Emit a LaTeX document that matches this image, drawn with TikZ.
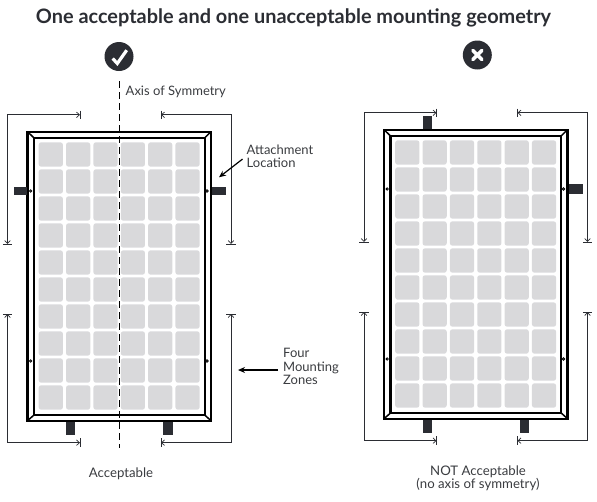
\documentclass[tikz,border=0pt]{standalone}
\usepackage{fontspec}
\setmainfont{Lato}
\usetikzlibrary{arrows.meta}
\definecolor{ink}{HTML}{2B2D33}
\definecolor{cell}{HTML}{D9D9DB}
\definecolor{txt}{HTML}{3A3C40}
\tikzset{
  x=1pt,y=-1pt,
  framel/.style={draw=black,line width=2.4pt,line join=miter},
  miterl/.style={draw=black,line width=1.5pt},
  cellbox/.style={fill=cell,rounded corners=2.5pt},
  mount/.style={fill=ink},
  dotm/.style={draw=black,fill=white,line width=0.8pt},
  brk/.style={draw=ink,line width=1pt,{Straight Barb[length=3pt,width=5.5pt,line width=0.7pt]}-{Straight Barb[length=3pt,width=5.5pt,line width=0.7pt]}},
  tick/.style={draw=ink,line width=1pt},
  badge/.style={fill=ink},
  lbl/.style={inner sep=0pt,text=txt,font=\fontsize{13}{13.3}\selectfont,align=left},
  capt/.style={inner sep=0pt,text=txt,font=\fontsize{13.2}{12.5}\selectfont,align=center},
  callout/.style={draw=black,line width=1.2pt,-{Stealth[length=7pt,width=6pt]}},
}
\newcommand{\solarpanel}{%
  \foreach \c in {0,...,5}{\foreach \r in {0,...,9}{
    \fill[cellbox] ({38.7+27.35*\c},{142.3+27*\r}) rectangle ++(24.2,24.4);
  }}
  \draw[framel] (27.5,131.7) rectangle (211,420.7);
  \draw[framel] (34,137.9) rectangle (204.7,415);
  \draw[miterl] (27.5,131.7)--(34,137.9) (211,131.7)--(204.7,137.9)
                (27.5,420.7)--(34,415) (211,420.7)--(204.7,415);
  \foreach \px/\py in {30.7/191,207/191,30.7/361,207/361}{
    \draw[dotm] (\px,\py) circle (1.2);
  }
  % zone brackets
  \draw[brk] (7.5,244)--(7.5,114.8)--(80,114.8);
  \draw[brk] (231,244)--(231,114.8)--(161,114.8);
  \draw[brk] (7.5,314)--(7.5,442.7)--(80,442.7);
  \draw[brk] (231,314)--(231,442.7)--(161,442.7);
  \foreach \tx in {80,161}{
    \draw[tick] (\tx,110.5)--(\tx,119.3);
    \draw[tick] (\tx,438.3)--(\tx,447.2);
  }
  \foreach \tx in {7.5,231}{
    \draw[tick] ({\tx-4.7},244)--({\tx+4.7},244);
    \draw[tick] ({\tx-4.7},314)--({\tx+4.7},314);
  }
}
\begin{document}
\begin{tikzpicture}
\useasboundingbox (0,0) rectangle (597,501);
\node[inner sep=0pt,text=ink,font=\fontsize{19.9}{22}\selectfont\bfseries] (title) at (293.5,18) {One acceptable and one unacceptable mounting geometry};

% left panel
\solarpanel
\fill[mount] (13.5,186.7) rectangle (27,195.3);
\fill[mount] (212,186.7) rectangle (225.6,195.3);
\fill[mount] (66,421.5) rectangle (75.3,435);
\fill[mount] (163,421.5) rectangle (172.5,435);
\draw[draw=black,line width=1.1pt,dash pattern=on 7pt off 4pt] (119.5,81)--(119.5,448);
\fill[badge] (119,56.5) circle (14.5);
\draw[white,line width=3.2pt] (112.7,58.5)--(117.3,63.5)--(126.7,50.2);
\node[lbl,anchor=west] (axis) at (125.5,91.5) {Axis of Symmetry};
\node[capt] (ok) at (121,474) {Acceptable};

% labels
\node[lbl,anchor=west] (attach) at (246.5,156) {Attachment\\Location};
\coordinate (attachtip) at (219,177.3);
\draw[callout,shorten <=5pt] (attach.west)--(attachtip);
\node[lbl,anchor=west] (zones) at (283,366.5) {Four\\Mounting\\Zones};
\coordinate (zonestip) at (238,370);
\draw[callout,shorten <=5pt] (zones.west |- zonestip)--(zonestip);

% right panel
\begin{scope}[shift={(356.5,-2)}]
  \solarpanel
  \fill[mount] (66.2,117.7) rectangle (75.5,131);
  \fill[mount] (212.2,186.3) rectangle (226.2,195.7);
  \fill[mount] (66.2,421.5) rectangle (75.5,435);
  \fill[mount] (163.5,421.5) rectangle (172.8,435);
\end{scope}
\fill[badge] (477.3,55) circle (14.5);
\draw[white,line width=3.6pt,line cap=round] (472.8,50.5)--(481.8,59.5) (481.8,50.5)--(472.8,59.5);
\node[capt] (notok) at (478,478.5) {NOT Acceptable\\[-1pt](no axis of symmetry)};
\end{tikzpicture}
\end{document}
